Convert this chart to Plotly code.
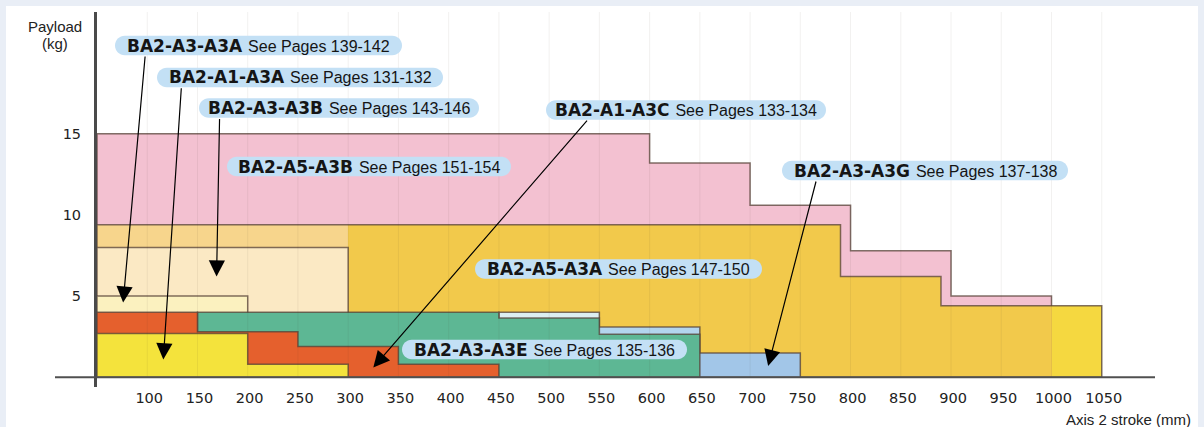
import plotly.graph_objects as go

# ---------------- data ----------------
stroke_ticks = [100, 150, 200, 250, 300, 350, 400, 450, 500, 550, 600, 650,
                700, 750, 800, 850, 900, 950, 1000, 1050]
payload_ticks = [5, 10, 15]

# step profiles: stroke edges (mm) and payload (kg) on each step
a5_a3b_edges = [50, 600, 700, 800, 900, 1000]
a5_a3b_payload = [15, 13.2, 10.6, 7.8, 5]

a5_a3a_edges = [50, 790, 890, 1050]
a5_a3a_payload = [9.4, 6.2, 4.4]

a3_a3b_edges = [50, 300]
a3_a3b_payload = [8]

a3_a3a_edges = [50, 200]
a3_a3a_payload = [5]

a3_a3g_edges = [450, 550, 650, 750]
a3_a3g_payload = [4.0, 3.1, 1.5]

a3_a3e_edges = [150, 450, 550, 650]
a3_a3e_payload = [4.0, 3.65, 2.65]

a1_a3c_edges = [50, 150, 250, 350, 450]
a1_a3c_payload = [4.0, 2.8, 1.9, 0.8]

a1_a3a_edges = [50, 200, 300]
a1_a3a_payload = [2.7, 0.8]

label_models = ["BA2-A3-A3A", "BA2-A1-A3A", "BA2-A3-A3B", "BA2-A5-A3B",
                "BA2-A1-A3C", "BA2-A3-A3G", "BA2-A5-A3A", "BA2-A3-A3E"]
label_pages = ["139-142", "131-132", "143-146", "151-154",
               "133-134", "137-138", "147-150", "135-136"]

# ---------------- layout geometry / styles ----------------
W, H = 1204, 427
ML, MR, MT, MB = 97, 49, 12, 40
XR = [50, 1103]
YR = [-0.6, 22.5]
PW = W - ML - MR
PH = H - MT - MB


def px_to_paper(px, py):
    return (px - ML) / PW, (H - MB - py) / PH


def step_polygon(edges, vals):
    xs, ys = [edges[0]], [0]
    for i, v in enumerate(vals):
        xs += [edges[i], edges[i + 1]]
        ys += [v, v]
    xs += [edges[-1], edges[0]]
    ys += [0, 0]
    return xs, ys


def step_gradient(edges, colors):
    """Hard-stop horizontal gradient: one colour per step of the profile."""
    span = edges[-1] - edges[0]
    scale = []
    for i, c in enumerate(colors):
        scale.append([(edges[i] - edges[0]) / span, c])
        scale.append([(edges[i + 1] - edges[0]) / span, c])
    return dict(type="horizontal", start=edges[0], stop=edges[-1],
                colorscale=scale)


OUTLINE = "rgba(85,65,55,0.75)"

fig = go.Figure()

orange_grad = step_gradient(
    [a5_a3a_edges[0], a3_a3b_edges[-1], a5_a3b_edges[-1], a5_a3a_edges[-1]],
    ["#F7D58C", "#F2C94B", "#F5D840"])
blue_grad = step_gradient(a3_a3g_edges, ["#DCEFF1", "#B3D5EE", "#A2C6E8"])

areas = [
    (a5_a3b_edges, a5_a3b_payload, "#F3C1D1", None),
    (a5_a3a_edges, a5_a3a_payload, "#F2C94B", orange_grad),
    (a3_a3b_edges, a3_a3b_payload, "#FBE9C4", None),
    (a3_a3a_edges, a3_a3a_payload, "#FBF1BF", None),
    (a3_a3g_edges, a3_a3g_payload, "#A2C6E8", blue_grad),
    (a3_a3e_edges, a3_a3e_payload, "#5DB794", None),
    (a1_a3c_edges, a1_a3c_payload, "#E5602D", None),
    (a1_a3a_edges, a1_a3a_payload, "#F4E33C", None),
]

for edges, vals, color, grad in areas:
    xs, ys = step_polygon(edges, vals)
    kw = dict(x=xs, y=ys, mode="lines", fill="toself", fillcolor=color,
              line=dict(color=OUTLINE, width=1.5), hoverinfo="skip",
              showlegend=False)
    if grad:
        kw["fillgradient"] = grad
    fig.add_trace(go.Scatter(**kw))

shapes = []
# white panel on the light frame
x0p, y1p = px_to_paper(6, 6)
x1p, y0p = px_to_paper(1198, H)
shapes.append(dict(type="rect", xref="paper", yref="paper", x0=x0p, x1=x1p,
                   y0=y0p, y1=y1p, fillcolor="white", line=dict(width=0),
                   layer="below"))
# vertical grid lines at the ticks
for t in stroke_ticks:
    shapes.append(dict(type="line", xref="x", yref="y", x0=t, x1=t, y0=0,
                       y1=YR[1], line=dict(color="rgba(70,50,40,0.07)", width=1),
                       layer="above"))
# x axis line with overhang to the left
shapes.append(dict(type="line", xref="paper", yref="y",
                   x0=px_to_paper(55, 0)[0], x1=1, y0=0, y1=0,
                   line=dict(color="#505050", width=2), layer="above"))

# label pills (pixel geometry: centre x, centre y, width)
pill_geom = [(258.5, 45.5, 287), (300, 77.5, 286), (339, 108, 280),
             (369, 166.5, 284), (686, 110, 280), (925, 170.5, 286),
             (618.5, 269, 287), (544.5, 349.5, 285)]
PILL_H = 19.5


def pill_path(w, h):
    r = h / 2
    k = 0.5523 * r
    a, b = -w / 2 + r, w / 2 - r
    L, R = -w / 2, w / 2
    return (f"M{a},{-r} L{b},{-r} C{b + k},{-r} {R},{-k} {R},0 "
            f"C{R},{k} {b + k},{r} {b},{r} L{a},{r} "
            f"C{a - k},{r} {L},{k} {L},0 C{L},{-k} {a - k},{-r} {a},{-r} Z")


annotations = []
for (cx, cy, w), model, pages in zip(pill_geom, label_models, label_pages):
    xp, yp = px_to_paper(cx, cy)
    shapes.append(dict(type="path", xref="paper", yref="paper",
                       xsizemode="pixel", ysizemode="pixel",
                       xanchor=xp, yanchor=yp, path=pill_path(w, PILL_H),
                       fillcolor="#C3E0F5", line=dict(width=0), layer="above"))
    annotations.append(dict(
        xref="paper", yref="paper", x=xp, y=yp, xanchor="center",
        yanchor="middle", showarrow=False,
        text=(f"<span style=\"font-family:'DejaVu Sans';font-size:17px;"
              f"font-weight:bold\">{model} </span>See Pages {pages}"),
        font=dict(family="Liberation Sans", size=16, color="#151515")))

# arrows: (tail stroke, tail payload, head stroke, head payload)
arrows = [(98, 19.85, 76, 4.6), (134, 17.9, 116, 1.1), (172, 16.0, 169, 6.2),
          (539, 15.9, 325, 0.6), (766, 12.15, 718, 0.7)]
for tx, ty, hx, hy in arrows:
    annotations.append(dict(xref="x", yref="y", axref="x", ayref="y",
                            x=hx, y=hy, ax=tx, ay=ty, text="",
                            showarrow=True, arrowhead=2, arrowsize=2.7,
                            arrowwidth=1.2, arrowcolor="#000"))

# axis titles
for txt, (px, py), anchor in [("Payload", (55, 26.5), "center"),
                              ("(kg)", (55, 43), "center"),
                              ("Axis 2 stroke (mm)", (1193, 419.5), "right")]:
    xp, yp = px_to_paper(px, py)
    annotations.append(dict(xref="paper", yref="paper", x=xp, y=yp,
                            xanchor=anchor, yanchor="middle", showarrow=False,
                            text=txt, font=dict(family="Liberation Sans",
                                                size=15, color="#222")))

fig.update_layout(
    width=W, height=H, margin=dict(l=ML, r=MR, t=MT, b=MB, pad=0),
    paper_bgcolor="#E9EEF6", plot_bgcolor="white",
    showlegend=False, hovermode=False,
    shapes=shapes, annotations=annotations,
    xaxis=dict(range=XR, tickvals=stroke_ticks,
               ticktext=[str(t) for t in stroke_ticks], showgrid=False,
               zeroline=False, showline=False, ticks="", ticklabelshift=2,
               tickfont=dict(family="DejaVu Sans", size=14.5, color="#222"),
               fixedrange=True),
    yaxis=dict(range=YR, tickvals=payload_ticks,
               ticktext=[str(t) for t in payload_ticks], showgrid=False,
               zeroline=False, showline=True, linecolor="#4a4a4a",
               linewidth=3, ticks="", ticklabelstandoff=10,
               tickfont=dict(family="DejaVu Sans", size=14.5, color="#222"),
               fixedrange=True),
)

fig.write_html(
    "out.html",
    config={"displayModeBar": False},
    post_script="document.body.style.margin='0';"
                "document.body.style.overflow='hidden';",
)
